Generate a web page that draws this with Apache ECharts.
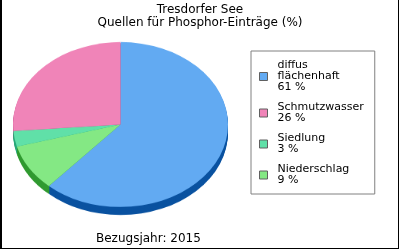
<!DOCTYPE html>
<html><head><meta charset="utf-8">
<script src="https://cdn.jsdelivr.net/npm/echarts@6/dist/echarts.min.js"></script>
<style>
html,body{margin:0;padding:0;background:#fff;}
#wrap{position:relative;width:400px;height:250px;overflow:hidden;background:#fff;}
#pie{position:absolute;left:0;top:0;width:400px;height:326px;transform:scaleY(0.767);transform-origin:0 0;}
#main{position:absolute;left:0;top:0;width:400px;height:250px;}
</style></head>
<body><div id="wrap"><div id="pie"></div><div id="main"></div></div>
<script>
const titleLines = ['Tresdorfer See', 'Quellen für Phosphor-Einträge (%)'];
const footer = 'Bezugsjahr: 2015';
const categories = ['diffus flächenhaft', 'Schmutzwasser', 'Siedlung', 'Niederschlag'];
const legendLabels = ['diffus\nflächenhaft', 'Schmutzwasser', 'Siedlung', 'Niederschlag'];
const values = [61, 26, 3, 9];
const colors = ['#62aaf2', '#f084b8', '#60e0a8', '#84e884'];
const darkColors = ['#0a52a0', '#b04880', '#28a878', '#309a30'];
const pieOrder = [0, 3, 2, 1];

const SCALE = 0.767;
const CX = 120.5, CY = 124.5, R = 107.5, DEPTH = 8;

const pieChart = echarts.init(document.getElementById('pie'), null, {renderer: 'canvas'});
const series = [];
for (let k = DEPTH; k >= 1; k--) {
  series.push({
    type: 'pie', silent: true, animation: false,
    center: [CX, (CY + k) / SCALE], radius: [0, R],
    startAngle: 90, clockwise: true,
    label: {show: false}, labelLine: {show: false},
    emphasis: {disabled: true},
    data: pieOrder.map(i => ({name: categories[i], value: values[i], itemStyle: {color: darkColors[i]}}))
  });
}
series.push({
  type: 'pie', silent: true, animation: false,
  center: [CX, CY / SCALE], radius: [0, R],
  startAngle: 90, clockwise: true,
  label: {show: false}, labelLine: {show: false},
  emphasis: {disabled: true},
  data: pieOrder.map(i => ({name: categories[i], value: values[i], itemStyle: {color: colors[i]}}))
});
pieChart.setOption({animation: false, series: series});

const main = echarts.init(document.getElementById('main'), null, {renderer: 'canvas'});
const F = 'DejaVu Sans';
main.setOption({
  animation: false,
  title: {
    text: titleLines.join('\n'), left: 'center', top: 3, padding: 0,
    textStyle: {fontFamily: F, fontSize: 12, fontWeight: 'normal', color: '#000', lineHeight: 13}
  },
  legend: {
    orient: 'vertical', left: 251, top: 51,
    padding: [9, 11, 8, 8], itemGap: 9,
    borderColor: '#808080', borderWidth: 1,
    itemWidth: 8, itemHeight: 8, icon: 'rect',
    itemStyle: {borderColor: '#606060', borderWidth: 1},
    selectedMode: false,
    data: categories,
    formatter: name => {
      const i = categories.indexOf(name);
      return legendLabels[i] + '\n' + values[i] + ' %';
    },
    textStyle: {fontFamily: F, fontSize: 11, color: '#000', lineHeight: 11, padding: [0, 0, 0, 5]}
  },
  graphic: [
    {type: 'text', left: 96, top: 233, style: {text: footer, font: '12px "DejaVu Sans"', fill: '#000'}},
    {type: 'rect', shape: {x: 0, y: 0, width: 2, height: 249}, style: {fill: '#000'}},
    {type: 'rect', shape: {x: 398, y: 0, width: 1, height: 249}, style: {fill: '#000'}},
    {type: 'rect', shape: {x: 0, y: 248, width: 399, height: 1}, style: {fill: '#000'}}
  ],
  series: [{
    type: 'pie', silent: true, radius: [0, 0], center: [-50, -50],
    label: {show: false}, labelLine: {show: false},
    data: categories.map((c, i) => ({name: c, value: values[i], itemStyle: {color: colors[i]}}))
  }]
});
</script></body></html>
